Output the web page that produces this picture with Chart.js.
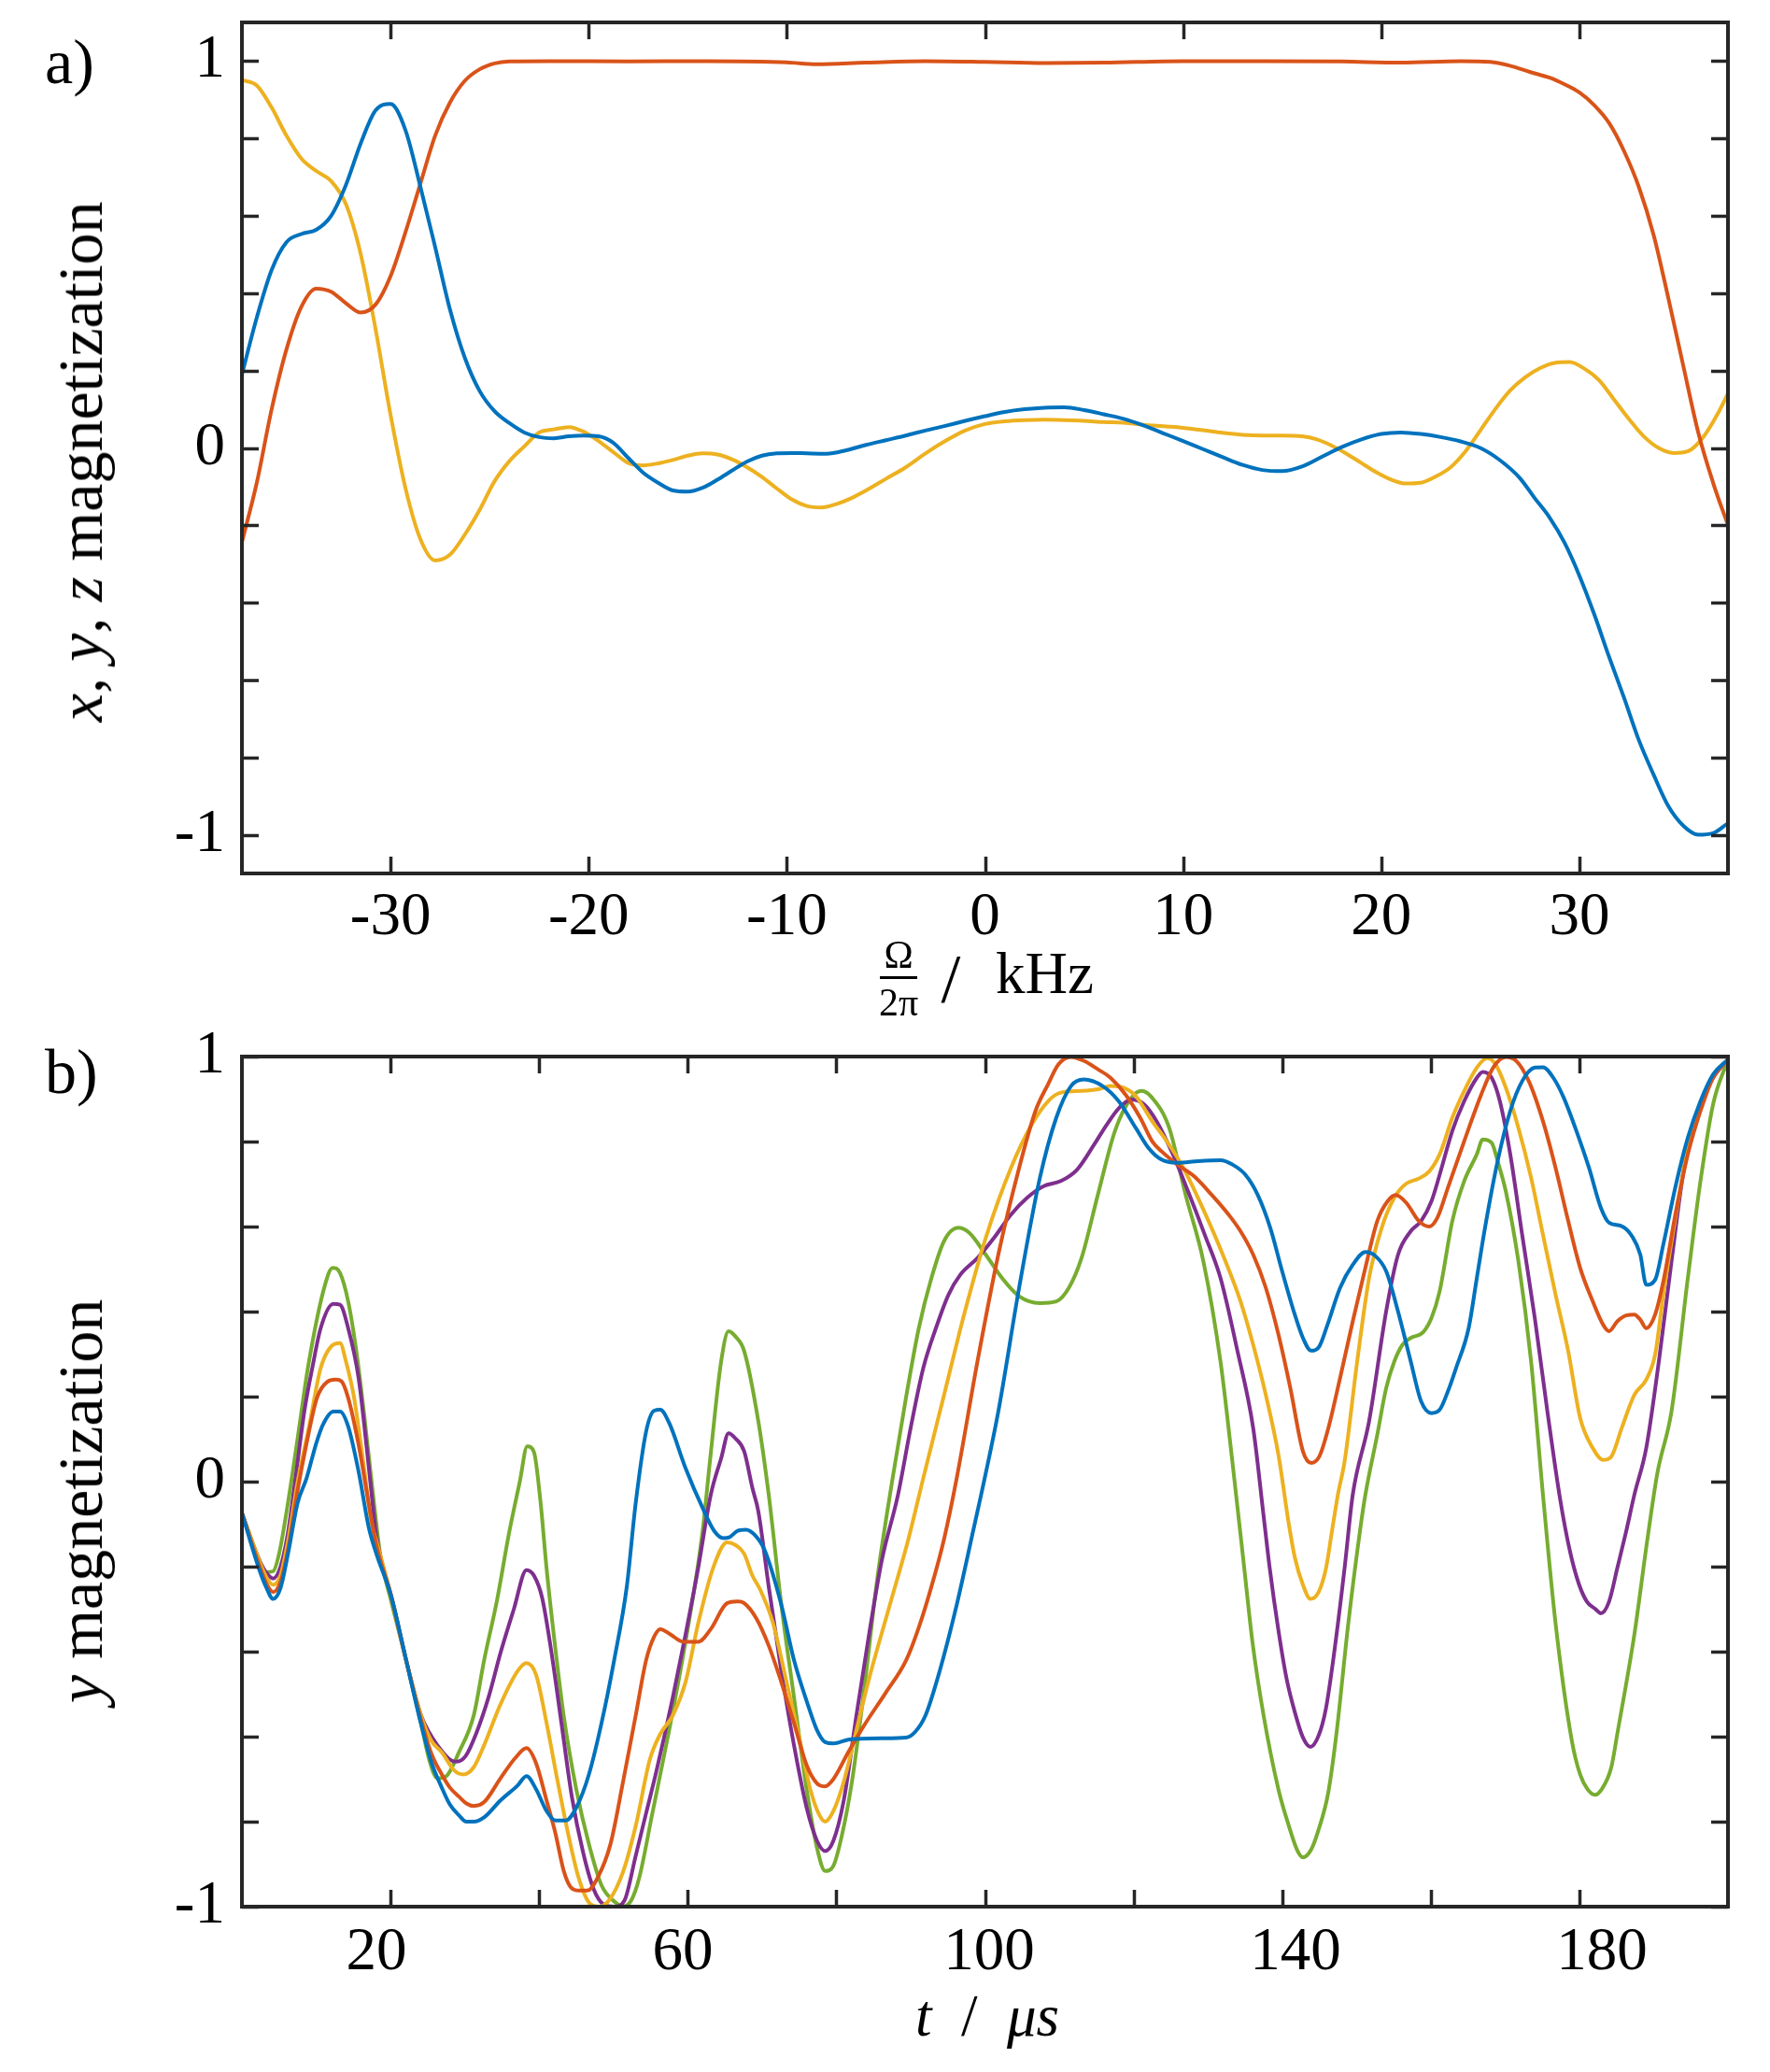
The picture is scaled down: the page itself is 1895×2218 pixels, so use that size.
<!DOCTYPE html>
<html><head><meta charset="utf-8">
<script src="https://cdn.jsdelivr.net/npm/chart.js@4.4.0/dist/chart.umd.min.js"></script>
<style>
html,body{margin:0;padding:0;background:#fff;}
#wrap{position:relative;width:1895px;height:2218px;overflow:hidden;font-family:"Liberation Serif","Times New Roman",serif;color:#000;}
canvas{position:absolute;left:0;}
.t{position:absolute;white-space:nowrap;line-height:1;}
.rot{transform:translate(-50%,-50%) rotate(-90deg);}
.ctr{transform:translateX(-50%);}
</style></head>
<body><div id="wrap">
<canvas id="ca" width="1895" height="1060" style="top:0px"></canvas>
<canvas id="cb" width="1895" height="1158" style="top:1060px"></canvas>
<div class="t" style="left:48px;top:32px;font-size:68px;">a)</div>
<div class="t" style="left:48px;top:1113px;font-size:68px;">b)</div>
<div class="t rot" style="left:86px;top:494px;font-size:68px;"><i>x</i>, <i>y</i>, <i>z</i> magnetization</div>
<div class="t rot" style="left:86px;top:1607px;font-size:68px;"><i>y</i> magnetization</div>
<div class="t ctr" style="left:962px;top:1001px;font-size:42px;">Ω</div>
<div style="position:absolute;left:942px;top:1045px;width:40px;height:3px;background:#000;"></div>
<div class="t ctr" style="left:962px;top:1052px;font-size:42px;">2π</div>
<div class="t ctr" style="left:1018px;top:1010px;font-size:75px;">/</div>
<div class="t" style="left:1066px;top:1011px;font-size:63px;">kHz</div>
<div class="t ctr" style="left:1057px;top:2127px;font-size:63px;"><i>t</i>&nbsp;&nbsp;/&nbsp;&nbsp;<i>μs</i></div>
</div>
<script>
// ---------- Panel a: magnetization vs offset frequency (kHz) ----------
const freqTicksA = [-30, -20, -10, 0, 10, 20, 30];
const magTicks = [-1, -0.8, -0.6, -0.4, -0.2, 0, 0.2, 0.4, 0.6, 0.8, 1];
const blueA = [[-37.5,0.19],[-36.75,0.337],[-36,0.46],[-35.25,0.532],[-34.5,0.553],[-33.75,0.564],[-33,0.60],[-32.25,0.68],[-31.5,0.788],[-30.75,0.873],[-30,0.889],[-29.25,0.822],[-28.5,0.677],[-27.75,0.52],[-27,0.358],[-26.25,0.233],[-25.5,0.147],[-24.75,0.095],[-24,0.064],[-23.25,0.04],[-22.5,0.028],[-21.75,0.025],[-21,0.03],[-20.25,0.032],[-19.5,0.03],[-18.75,0.013],[-18,-0.026],[-17.25,-0.064],[-16.5,-0.09],[-15.75,-0.11],[-15,-0.113],[-14.25,-0.103],[-13.5,-0.082],[-12.75,-0.058],[-12,-0.035],[-11.25,-0.02],[-10.5,-0.014],[-9.75,-0.013],[-9,-0.014],[-8,-0.015],[-7,-0.006],[-6,0.008],[-5,0.02],[-4,0.032],[-3,0.045],[-2,0.057],[-1,0.07],[0,0.082],[1,0.093],[2,0.1],[3,0.104],[4,0.105],[5,0.098],[6,0.087],[7,0.075],[8,0.058],[9,0.038],[10,0.018],[11,-0.003],[12,-0.024],[13,-0.044],[14,-0.057],[15,-0.06],[16,-0.048],[17,-0.023],[18,0.002],[19,0.022],[20,0.036],[21,0.04],[22,0.036],[23,0.028],[24,0.017],[25,0.0],[26,-0.032],[27,-0.078],[27.75,-0.13],[28.5,-0.18],[29.25,-0.245],[30,-0.33],[30.75,-0.43],[31.5,-0.54],[32.25,-0.645],[33,-0.755],[33.75,-0.845],[34.5,-0.927],[35.25,-0.977],[36,-1.0],[36.75,-0.996],[37.5,-0.97]];
const orangeA = [[-37.5,-0.244],[-36.75,-0.09],[-36,0.1],[-35.25,0.255],[-34.5,0.365],[-33.75,0.412],[-33,0.404],[-32.25,0.374],[-31.5,0.35],[-30.75,0.371],[-30,0.444],[-29.25,0.557],[-28.5,0.682],[-27.75,0.807],[-27,0.893],[-26.25,0.949],[-25.5,0.979],[-24.75,0.994],[-24,0.999],[-22,1.0],[-18,0.999],[-14,1.0],[-10,0.997],[-8.5,0.992],[-6,0.996],[-3,1.0],[0,0.998],[3,0.995],[6,0.996],[10,1.0],[14,1.0],[18,0.999],[21,0.996],[24,1.0],[25.5,0.998],[26.5,0.988],[27.5,0.972],[28.5,0.957],[29.25,0.94],[30,0.919],[30.75,0.886],[31.5,0.84],[32.25,0.768],[33,0.675],[33.75,0.55],[34.5,0.385],[35.25,0.211],[36,0.04],[36.75,-0.09],[37.5,-0.2]];
const yellowA = [[-37.5,0.951],[-36.75,0.937],[-36,0.88],[-35.25,0.807],[-34.5,0.748],[-33.75,0.716],[-33,0.69],[-32.25,0.63],[-31.5,0.5],[-30.75,0.306],[-30,0.086],[-29.25,-0.103],[-28.5,-0.235],[-27.75,-0.291],[-27,-0.276],[-26.25,-0.224],[-25.5,-0.16],[-24.75,-0.086],[-24,-0.034],[-23.25,0.004],[-22.5,0.04],[-21.75,0.048],[-21,0.054],[-20.25,0.042],[-19.5,0.018],[-18.75,-0.011],[-18,-0.039],[-17.25,-0.045],[-16.5,-0.04],[-15.75,-0.031],[-15,-0.02],[-14.25,-0.014],[-13.5,-0.017],[-12.75,-0.03],[-12,-0.05],[-11.25,-0.075],[-10.5,-0.105],[-9.75,-0.133],[-9,-0.15],[-8.25,-0.154],[-7.5,-0.145],[-6.75,-0.13],[-6,-0.11],[-5,-0.08],[-4,-0.05],[-3,-0.014],[-2,0.018],[-1,0.045],[0,0.062],[1,0.069],[2,0.072],[3,0.073],[4,0.072],[5,0.07],[6,0.067],[7,0.065],[8,0.06],[9,0.056],[10,0.052],[11,0.046],[12,0.039],[13,0.034],[14,0.032],[15,0.032],[16,0.03],[16.75,0.022],[17.5,0.006],[18.25,-0.015],[19,-0.039],[19.75,-0.063],[20.5,-0.082],[21.25,-0.092],[22,-0.09],[22.75,-0.074],[23.5,-0.05],[24.25,-0.009],[25,0.045],[25.75,0.1],[26.5,0.148],[27.25,0.182],[28,0.206],[28.75,0.22],[29.5,0.222],[30.25,0.205],[31,0.175],[31.75,0.125],[32.5,0.075],[33.25,0.03],[34,0.0],[34.75,-0.013],[35.5,-0.008],[36.25,0.028],[37,0.09],[37.5,0.141]];

// ---------- Panel b: y magnetization vs time (µs) ----------
const timeTicksB = [20, 40, 60, 80, 100, 120, 140, 160, 180];
const timeLabelsB = [20, 60, 100, 140, 180];
// the printed labels sit on a slightly different span than the tick marks in the source figure
const timeLabelSpanB = [2.44, 196.46];
const blueB = [[0,-0.074],[2.2,-0.2],[3.3,-0.25],[4.2,-0.276],[5.2,-0.25],[6.2,-0.17],[7.5,-0.05],[8.7,0.008],[10,0.09],[10.9,0.134],[12.3,0.165],[13.2,0.165],[14.3,0.13],[15.7,0.024],[17.1,-0.11],[18.1,-0.17],[20.1,-0.27],[22.1,-0.42],[24.1,-0.57],[25.5,-0.66],[26.9,-0.72],[28,-0.76],[29.2,-0.785],[30.2,-0.8],[31.2,-0.8],[32.6,-0.79],[34.8,-0.75],[37.1,-0.715],[38.3,-0.693],[39.6,-0.724],[41,-0.775],[42.2,-0.797],[43.6,-0.797],[45,-0.767],[46.7,-0.689],[48.4,-0.568],[50.1,-0.42],[51.8,-0.247],[53,-0.05],[54.4,0.118],[55.5,0.167],[56.3,0.169],[57.5,0.138],[59.7,0.032],[62,-0.062],[63.6,-0.117],[64.8,-0.133],[65.6,-0.131],[66.7,-0.116],[67.8,-0.113],[69,-0.125],[70.4,-0.163],[72.6,-0.29],[74.3,-0.42],[76,-0.516],[77.4,-0.585],[78.5,-0.613],[79.6,-0.616],[81.6,-0.607],[83.3,-0.605],[86.1,-0.604],[89.4,-0.602],[90.6,-0.589],[92,-0.55],[93.9,-0.446],[96.2,-0.29],[98.4,-0.117],[99.5,-0.03],[101.8,0.165],[104.6,0.456],[107.4,0.715],[109.6,0.856],[111.6,0.931],[113.3,0.946],[115.8,0.931],[118,0.895],[120.3,0.832],[122,0.785],[123.7,0.758],[125.9,0.75],[128.7,0.754],[131.7,0.756],[133.3,0.746],[135,0.723],[136.7,0.675],[138.4,0.597],[140,0.495],[141.7,0.393],[142.8,0.338],[143.9,0.308],[145,0.318],[146.1,0.369],[147.8,0.456],[149.5,0.51],[151.2,0.54],[152.6,0.53],[154,0.495],[155.6,0.4],[157.3,0.283],[158.7,0.189],[160.1,0.161],[161.2,0.169],[162.3,0.212],[163.4,0.267],[165.1,0.361],[166.2,0.479],[167.3,0.597],[169,0.754],[170.7,0.872],[172.3,0.942],[174,0.974],[175.1,0.975],[176.5,0.95],[177.9,0.903],[179.6,0.825],[181.3,0.738],[182.9,0.644],[184,0.609],[185.7,0.601],[187.1,0.577],[188.2,0.534],[189,0.463],[190.2,0.475],[191.3,0.558],[193,0.699],[194.6,0.809],[196.3,0.895],[198,0.958],[200,0.993]];
const orangeB = [[0,-0.074],[2.2,-0.19],[3.3,-0.24],[4.2,-0.26],[5.2,-0.235],[6.2,-0.16],[7.5,-0.02],[8.7,0.09],[10.1,0.197],[11.5,0.235],[12.6,0.24],[13.4,0.236],[14.3,0.197],[15.7,0.087],[17.1,-0.055],[18.1,-0.15],[20.1,-0.27],[22.1,-0.42],[24.1,-0.56],[25.5,-0.64],[26.9,-0.689],[28,-0.72],[29.2,-0.741],[30.2,-0.757],[31.2,-0.763],[32.6,-0.754],[34.8,-0.698],[36.8,-0.65],[38.3,-0.627],[39.6,-0.663],[41,-0.75],[42.2,-0.828],[43.3,-0.915],[44.3,-0.955],[45.4,-0.962],[46.5,-0.962],[47.9,-0.931],[49.6,-0.853],[51.3,-0.706],[53,-0.55],[54.4,-0.42],[55.5,-0.364],[56.3,-0.347],[57.7,-0.36],[59.4,-0.377],[61.4,-0.377],[63.1,-0.347],[65.3,-0.286],[66.7,-0.282],[67.6,-0.286],[69.2,-0.321],[70.9,-0.386],[72.6,-0.472],[74.3,-0.568],[76,-0.667],[77.4,-0.71],[78.5,-0.717],[79.6,-0.7],[81.6,-0.637],[83.8,-0.572],[86.6,-0.498],[89.4,-0.42],[91.1,-0.343],[92.8,-0.247],[94.5,-0.135],[96.2,0.008],[99,0.283],[101.8,0.534],[104.6,0.738],[106.8,0.872],[108.5,0.935],[109.9,0.982],[111.6,0.999],[113.3,0.99],[115.2,0.97],[116.9,0.95],[118.9,0.911],[120.9,0.856],[122.5,0.801],[123.9,0.775],[125.9,0.746],[128.1,0.719],[130.5,0.675],[132.8,0.628],[134.4,0.589],[136.1,0.534],[137.8,0.456],[139.5,0.346],[141.1,0.22],[142.8,0.071],[143.9,0.044],[145,0.059],[146.1,0.118],[147.8,0.244],[149.5,0.377],[151.2,0.503],[152.8,0.613],[154.2,0.66],[155.3,0.674],[156.7,0.656],[158.4,0.613],[159.8,0.6],[160.9,0.621],[162.3,0.691],[164.5,0.801],[166.8,0.911],[168.4,0.974],[170.1,0.999],[171.5,0.99],[173.2,0.942],[175.1,0.848],[176.8,0.738],[178.5,0.613],[180.1,0.503],[181.8,0.424],[183.2,0.369],[184,0.354],[185.1,0.377],[186.3,0.391],[187.4,0.393],[188.2,0.381],[189,0.361],[190.2,0.393],[191.3,0.471],[193,0.636],[194.6,0.77],[196.3,0.872],[198,0.95],[200,0.993]];
const yellowB = [[0,-0.074],[2.2,-0.18],[3.3,-0.225],[4.2,-0.243],[5.2,-0.22],[6.2,-0.14],[7.5,0.0],[9,0.126],[10.6,0.267],[12,0.318],[13.2,0.326],[14,0.283],[15.1,0.197],[16.5,0.024],[17.4,-0.094],[18.1,-0.14],[20.1,-0.27],[22.1,-0.42],[24.1,-0.55],[25.5,-0.61],[26.9,-0.637],[28.6,-0.68],[29.8,-0.689],[31.2,-0.672],[32.6,-0.62],[34.8,-0.524],[37.1,-0.446],[38.3,-0.427],[39.6,-0.455],[41,-0.568],[42.5,-0.706],[43.9,-0.828],[45.3,-0.931],[46.7,-0.99],[48.1,-1.0],[49.5,-0.983],[51.3,-0.918],[53,-0.81],[54.9,-0.654],[56.3,-0.594],[58,-0.55],[59.7,-0.472],[61.4,-0.334],[63.4,-0.204],[65.3,-0.143],[66.5,-0.15],[67.6,-0.17],[68.7,-0.221],[69.8,-0.256],[71.5,-0.334],[73.2,-0.464],[74.9,-0.594],[76.5,-0.724],[77.7,-0.784],[78.5,-0.8],[79.6,-0.775],[81,-0.706],[82.7,-0.585],[84.4,-0.464],[87.2,-0.29],[89.7,-0.135],[91.7,0.008],[94.5,0.204],[97.3,0.4],[100.1,0.573],[103.5,0.738],[106.3,0.84],[108.5,0.895],[110.2,0.915],[113,0.919],[115.2,0.923],[116.9,0.931],[118.6,0.927],[120.3,0.907],[122.5,0.848],[124.5,0.8],[126.7,0.738],[129.4,0.64],[132.2,0.526],[134.4,0.424],[136.1,0.322],[137.8,0.204],[139.5,0.063],[140.9,-0.1],[141.7,-0.178],[142.8,-0.243],[143.8,-0.276],[144.9,-0.26],[145.9,-0.204],[146.7,-0.117],[147.5,-0.031],[148.4,0.047],[150.1,0.283],[151.7,0.479],[153.4,0.597],[155.1,0.668],[156.7,0.701],[158.4,0.713],[159.8,0.73],[161.2,0.77],[162.9,0.856],[164.5,0.919],[166.2,0.974],[167.6,0.996],[168.7,0.982],[170.1,0.927],[171.8,0.832],[173.5,0.715],[175.1,0.581],[176.8,0.44],[178.5,0.307],[180.1,0.15],[181.8,0.079],[183.2,0.051],[184.3,0.059],[185.7,0.126],[187.4,0.204],[189,0.24],[190.2,0.299],[191.3,0.44],[193,0.628],[194.6,0.785],[196.3,0.888],[198,0.954],[200,0.993]];
const purpleB = [[0,-0.074],[2.2,-0.18],[3.3,-0.215],[4.2,-0.228],[5.2,-0.2],[6.2,-0.12],[7.3,0.02],[8.4,0.165],[9.5,0.27],[10.6,0.361],[12.3,0.418],[13.2,0.416],[14.3,0.361],[15.7,0.244],[16.8,0.079],[17.7,-0.07],[18.1,-0.13],[20.1,-0.27],[22.1,-0.42],[24.1,-0.55],[25.2,-0.59],[26.3,-0.62],[28,-0.654],[28.9,-0.659],[30.1,-0.646],[31.5,-0.594],[33.2,-0.507],[34.8,-0.403],[36.6,-0.3],[38.3,-0.208],[39.3,-0.221],[40.4,-0.273],[41.6,-0.395],[43,-0.568],[44.4,-0.741],[45.9,-0.871],[47.3,-0.957],[48.7,-0.995],[50.1,-1.0],[51.5,-0.985],[53,-0.88],[54.4,-0.78],[55.8,-0.68],[58,-0.507],[59.7,-0.36],[61.4,-0.204],[63.1,-0.031],[64.5,0.055],[65.5,0.114],[66.4,0.102],[67.6,0.071],[68.7,-0.015],[69.5,-0.07],[70.9,-0.247],[72.6,-0.446],[74.3,-0.62],[76,-0.767],[77.4,-0.845],[78.5,-0.869],[79.6,-0.845],[81,-0.75],[82.7,-0.55],[84.4,-0.36],[86.1,-0.187],[88.3,-0.031],[90,0.126],[91.7,0.267],[93.4,0.361],[95.1,0.44],[96.7,0.487],[99,0.526],[101.2,0.573],[103.5,0.628],[105.7,0.668],[107.9,0.695],[110.2,0.707],[112.4,0.734],[114.7,0.793],[116.4,0.84],[118.1,0.88],[119.7,0.899],[121.4,0.888],[123.1,0.848],[125.3,0.77],[127.4,0.68],[129.6,0.58],[131.7,0.479],[133.9,0.314],[136.1,0.126],[137.5,-0.08],[138.3,-0.2],[139.5,-0.35],[140.6,-0.464],[141.7,-0.542],[142.8,-0.602],[143.8,-0.624],[144.9,-0.598],[145.9,-0.533],[147,-0.403],[148.4,-0.204],[149.5,-0.031],[151.7,0.142],[154,0.401],[155.6,0.534],[157.3,0.589],[158.7,0.613],[160.1,0.66],[161.2,0.722],[162.9,0.825],[164.5,0.895],[166.2,0.95],[167,0.964],[168.2,0.95],[169.3,0.895],[170.7,0.77],[172.3,0.581],[174,0.385],[175.7,0.165],[177.4,-0.04],[178.7,-0.161],[179.9,-0.239],[181,-0.282],[182.1,-0.299],[182.9,-0.31],[184,-0.282],[185.1,-0.204],[186.3,-0.117],[187.4,-0.031],[189,0.079],[190.7,0.283],[192.4,0.518],[194.1,0.738],[196.3,0.888],[198,0.95],[200,0.993]];
const greenB = [[0,-0.074],[2.2,-0.178],[3.3,-0.213],[4.2,-0.211],[5,-0.17],[6.2,-0.05],[7.4,0.09],[9,0.28],[11.2,0.464],[12.2,0.503],[13.2,0.491],[14.3,0.424],[15.4,0.307],[16.5,0.15],[17.9,-0.07],[18.6,-0.17],[20.1,-0.282],[22.1,-0.42],[24.1,-0.568],[25.2,-0.654],[26.3,-0.698],[27.5,-0.693],[29.2,-0.637],[31.2,-0.55],[32.6,-0.42],[34.3,-0.282],[36,-0.117],[37.4,0.0],[38.4,0.083],[39.3,0.07],[40.2,-0.05],[41,-0.204],[42.2,-0.395],[43.3,-0.55],[45,-0.724],[46.7,-0.853],[48.4,-0.95],[50.4,-0.992],[51.2,-1.0],[52.4,-0.985],[53.5,-0.93],[55.2,-0.784],[57.5,-0.585],[59.7,-0.377],[62,-0.117],[63,0.05],[64.5,0.283],[65.5,0.354],[66.4,0.342],[67.6,0.307],[69.5,0.142],[70.9,-0.031],[72.6,-0.29],[74.3,-0.507],[76,-0.724],[77.4,-0.862],[78.5,-0.916],[79.6,-0.904],[80.7,-0.836],[82.1,-0.706],[83.8,-0.481],[85.5,-0.23],[87.5,0.0],[89.4,0.2],[91.1,0.361],[92.8,0.479],[94.5,0.566],[96.4,0.597],[97.9,0.585],[100.1,0.534],[102.3,0.479],[104.6,0.436],[107.4,0.42],[109.6,0.424],[111.3,0.456],[113,0.526],[115.2,0.675],[117.5,0.825],[119.7,0.903],[121.1,0.919],[122.5,0.903],[124.8,0.832],[127,0.675],[129.4,0.518],[131.7,0.283],[133.3,0.047],[134.9,-0.204],[136,-0.377],[137.5,-0.55],[139.5,-0.724],[140.9,-0.81],[142,-0.866],[142.8,-0.884],[143.9,-0.866],[144.9,-0.819],[146.2,-0.732],[147.3,-0.594],[148.9,-0.334],[150.6,-0.1],[151.2,-0.031],[152.8,0.11],[154,0.22],[155.1,0.283],[156.2,0.322],[157.3,0.338],[159,0.352],[160.1,0.385],[161.2,0.448],[162.9,0.613],[164.5,0.707],[166.2,0.77],[167,0.805],[168.2,0.797],[169,0.754],[170.1,0.683],[171.8,0.518],[173.5,0.283],[175.1,-0.031],[176.8,-0.334],[179,-0.611],[180.1,-0.689],[181.1,-0.724],[182.1,-0.737],[183,-0.724],[184.3,-0.672],[185.1,-0.594],[187.4,-0.36],[189.1,-0.143],[190.5,0.02],[192.4,0.165],[194.6,0.479],[196.3,0.707],[198,0.888],[200,0.993]];

const COLORS = { blue:'#0072BD', orange:'#D95319', yellow:'#EDB120', purple:'#7E2F8E', green:'#77AC30' };
const AXIS_COLOR = '#262626';
const TICK_LEN = 18;

const toPts = arr => arr.map(p => ({x: p[0], y: p[1]}));
const ds = (arr, color) => ({ data: toPts(arr), xAxisID: 'x', yAxisID: 'y', borderColor: color, borderWidth: 4, pointRadius: 0, fill: false, tension: 0, cubicInterpolationMode: 'monotone' });

const framePlugin = {
  id: 'frame',
  afterDraw(chart) {
    const {ctx, chartArea: a} = chart;
    const x = chart.scales.x, y = chart.scales.y;
    ctx.save();
    ctx.strokeStyle = AXIS_COLOR;
    ctx.lineWidth = 3.5;
    ctx.beginPath();
    x.ticks.forEach(t => {
      const px = Math.round(x.getPixelForValue(t.value)) + 0.5;
      ctx.moveTo(px, a.bottom); ctx.lineTo(px, a.bottom - TICK_LEN);
      ctx.moveTo(px, a.top); ctx.lineTo(px, a.top + TICK_LEN);
    });
    y.ticks.forEach(t => {
      const py = Math.round(y.getPixelForValue(t.value)) + 0.5;
      ctx.moveTo(a.left, py); ctx.lineTo(a.left + TICK_LEN, py);
      ctx.moveTo(a.right, py); ctx.lineTo(a.right - TICK_LEN, py);
    });
    ctx.stroke();
    ctx.lineWidth = 4;
    ctx.strokeRect(a.left, a.top, a.right - a.left, a.bottom - a.top);
    ctx.restore();
  }
};

const tickFont = { family: '"Liberation Serif", "Times New Roman", serif', size: 65 };
const noGrid = { display: false, drawTicks: false };

function yScale(min, max) {
  return {
    type: 'linear', min, max,
    afterBuildTicks: s => { s.ticks = magTicks.map(v => ({ value: v })); },
    afterFit: s => { s.width = 259; s.paddingTop = 0; s.paddingBottom = 0; },
    grid: noGrid, border: { display: false },
    ticks: { autoSkip: false, padding: 18, color: '#000', font: tickFont,
             callback: v => (Math.abs(v - Math.round(v)) < 1e-6 ? String(Math.round(v)) : '') }
  };
}

function baseOptions(pad, scales) {
  return {
    responsive: false, animation: false, devicePixelRatio: 1,
    layout: { padding: pad, autoPadding: false },
    plugins: { legend: { display: false }, tooltip: { enabled: false }, title: { display: false } },
    scales
  };
}

// Panel a
new Chart(document.getElementById('ca'), {
  type: 'line',
  data: { datasets: [ds(blueA, COLORS.blue), ds(orangeA, COLORS.orange), ds(yellowA, COLORS.yellow)] },
  options: baseOptions({ left: 0, right: 45, top: 24, bottom: 0 }, {
    x: {
      type: 'linear', min: -37.5, max: 37.5,
      afterBuildTicks: s => { s.ticks = freqTicksA.map(v => ({ value: v })); },
      afterFit: s => { s.height = 125; s.paddingLeft = 0; s.paddingRight = 0; },
      grid: noGrid, border: { display: false },
      ticks: { autoSkip: false, maxRotation: 0, minRotation: 0, padding: 9, color: '#000', font: tickFont }
    },
    y: yScale(-1.1, 1.1)
  }),
  plugins: [framePlugin]
});

// Panel b
new Chart(document.getElementById('cb'), {
  type: 'line',
  data: { datasets: [ds(blueB, COLORS.blue), ds(orangeB, COLORS.orange), ds(yellowB, COLORS.yellow), ds(purpleB, COLORS.purple), ds(greenB, COLORS.green)] },
  options: baseOptions({ left: 0, right: 45, top: 71, bottom: 0 }, {
    x: {
      type: 'linear', min: 0, max: 200, position: 'bottom', weight: 2,
      afterBuildTicks: s => { s.ticks = timeTicksB.map(v => ({ value: v })); },
      afterFit: s => { s.height = 0; s.paddingLeft = 0; s.paddingRight = 0; },
      grid: noGrid, border: { display: false },
      ticks: { display: false }
    },
    xl: {
      type: 'linear', min: timeLabelSpanB[0], max: timeLabelSpanB[1], position: 'bottom', weight: 1,
      afterBuildTicks: s => { s.ticks = timeLabelsB.map(v => ({ value: v })); },
      afterFit: s => { s.height = 177; s.paddingLeft = 0; s.paddingRight = 0; },
      grid: noGrid, border: { display: false },
      ticks: { autoSkip: false, maxRotation: 0, minRotation: 0, padding: 11, color: '#000', font: tickFont }
    },
    y: yScale(-1, 1)
  }),
  plugins: [framePlugin]
});
</script>
</body></html>
